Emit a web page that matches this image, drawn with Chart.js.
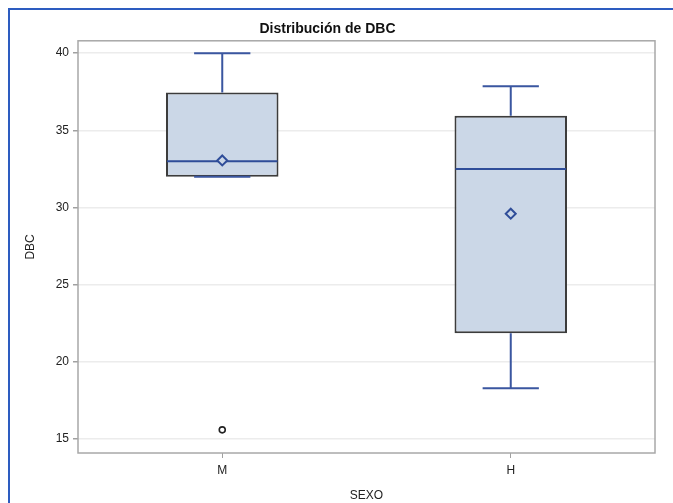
<!DOCTYPE html>
<html>
<head>
<meta charset="utf-8">
<script src="https://cdn.jsdelivr.net/npm/chart.js@4.4.1/dist/chart.umd.min.js"></script>
<style>
  html, body { margin: 0; padding: 0; background: #fff; }
  #wrap { position: relative; width: 673px; height: 503px; overflow: hidden; }
  canvas { position: absolute; left: 0; top: 0; }
  #frame { position: absolute; left: 8px; top: 8px; width: 700px; height: 600px;
           border-top: 2px solid #2d5cc0; border-left: 2px solid #2d5cc0; pointer-events: none; }
</style>
</head>
<body>
<div id="wrap">
  <canvas id="c" width="673" height="503"></canvas>
  <div id="frame"></div>
</div>
<script>
// ---- data ----
const categories = ['M', 'H'];
const whiskerLow  = [32.0, 18.3];
const q1          = [32.0, 21.85];
const median      = [33.0, 32.5];
const q3          = [37.45, 35.95];
const whiskerHigh = [40.0, 37.85];
const means       = [33.05, 29.6];
const outlierCats = ['M'];
const outlierVals = [15.6];
const yTicks      = [15, 20, 25, 30, 35, 40];

const BOX_FILL = '#cbd7e7';
const BOX_EDGE = '#3c3c3c';
const BLUE = '#3a56a0';
const FONT = 'Liberation Sans, Arial, sans-serif';

const boxData = categories.map((c, i) => [q1[i], q3[i]]);
const meanData = categories.map((c, i) => ({ x: c, y: means[i] }));
const outlierData = outlierCats.map((c, i) => ({ x: c, y: outlierVals[i] }));

const boxPlugin = {
  id: 'boxParts',
  afterDatasetDraw(chart, args) {
    if (args.index !== 0) return;
    const ctx = chart.ctx, y = chart.scales.y;
    const meta = args.meta;
    ctx.save();
    meta.data.forEach((bar, i) => {
      const x = bar.x, half = bar.width / 2, cap = bar.width / 4;
      const pHi = y.getPixelForValue(whiskerHigh[i]);
      const pQ3 = y.getPixelForValue(q3[i]);
      const pQ1 = y.getPixelForValue(q1[i]);
      const pLo = y.getPixelForValue(whiskerLow[i]);
      const pMed = y.getPixelForValue(median[i]);
      ctx.strokeStyle = BLUE;
      ctx.lineWidth = 2;
      ctx.beginPath();
      ctx.moveTo(x, pHi); ctx.lineTo(x, pQ3);
      ctx.moveTo(x, pQ1); ctx.lineTo(x, pLo);
      ctx.moveTo(x - cap, pHi); ctx.lineTo(x + cap, pHi);
      ctx.moveTo(x - cap, pLo); ctx.lineTo(x + cap, pLo);
      ctx.stroke();
      ctx.beginPath();
      ctx.lineWidth = 2;
      ctx.strokeStyle = '#2f4d99';
      ctx.moveTo(x - half + 1, pMed); ctx.lineTo(x + half - 1, pMed);
      ctx.stroke();
    });
    ctx.restore();
  },
  afterDraw(chart) {
    const a = chart.chartArea, ctx = chart.ctx;
    ctx.save();
    ctx.strokeStyle = '#a8a8a8';
    ctx.lineWidth = 1.5;
    ctx.strokeRect(a.left, a.top, a.right - a.left, a.bottom - a.top);
    ctx.restore();
  }
};

new Chart(document.getElementById('c'), {
  data: {
    labels: categories,
    datasets: [
      {
        type: 'bar',
        data: boxData,
        backgroundColor: BOX_FILL,
        borderColor: BOX_EDGE,
        borderWidth: 2,
        borderSkipped: false,
        categoryPercentage: 1,
        barPercentage: 0.39,
        order: 3
      },
      {
        type: 'line',
        data: meanData,
        showLine: false,
        pointStyle: 'rectRot',
        pointRadius: 5,
        pointBorderWidth: 2,
        pointBorderColor: '#2f4d99',
        pointBackgroundColor: BOX_FILL,
        order: 1
      },
      {
        type: 'line',
        data: outlierData,
        showLine: false,
        pointStyle: 'circle',
        pointRadius: 3,
        pointBorderWidth: 1.6,
        pointBorderColor: '#222222',
        pointBackgroundColor: '#ffffff',
        order: 0
      }
    ]
  },
  options: {
    responsive: false,
    animation: false,
    events: [],
    layout: { padding: { left: 0, right: 18, top: 0, bottom: 0 } },
    plugins: {
      legend: { display: false },
      tooltip: { enabled: false },
      title: {
        display: true,
        text: 'Distribución de DBC',
        color: '#111111',
        font: { family: FONT, size: 14, weight: 'bold' },
        padding: { top: 21, bottom: 3 }
      }
    },
    scales: {
      x: {
        type: 'category',
        offset: true,
        grid: { display: true, offset: false, drawOnChartArea: false, drawTicks: true, tickLength: 5, tickColor: '#a0a0a0' },
        border: { display: false },
        ticks: { color: '#222222', padding: 5, font: { family: FONT, size: 12 } },
        title: { display: true, text: 'SEXO', color: '#222222', padding: { top: 0, bottom: 0 },
                 font: { family: FONT, size: 12 } },
        afterFit(scale) { scale.height = 50; }
      },
      y: {
        type: 'linear',
        min: 14.1,
        max: 40.8,
        afterBuildTicks(scale) { scale.ticks = yTicks.map(v => ({ value: v })); },
        grid: { color: '#ececec', lineWidth: 1.5, drawTicks: true, tickLength: 5, tickColor: '#a0a0a0' },
        border: { display: false },
        ticks: { color: '#222222', padding: 4, font: { family: FONT, size: 12 } },
        title: { display: true, text: 'DBC', color: '#222222', padding: { top: 23, bottom: 0 },
                 font: { family: FONT, size: 12 } },
        afterFit(scale) { scale.width = 78; }
      }
    }
  },
  plugins: [boxPlugin]
});
</script>
</body>
</html>
